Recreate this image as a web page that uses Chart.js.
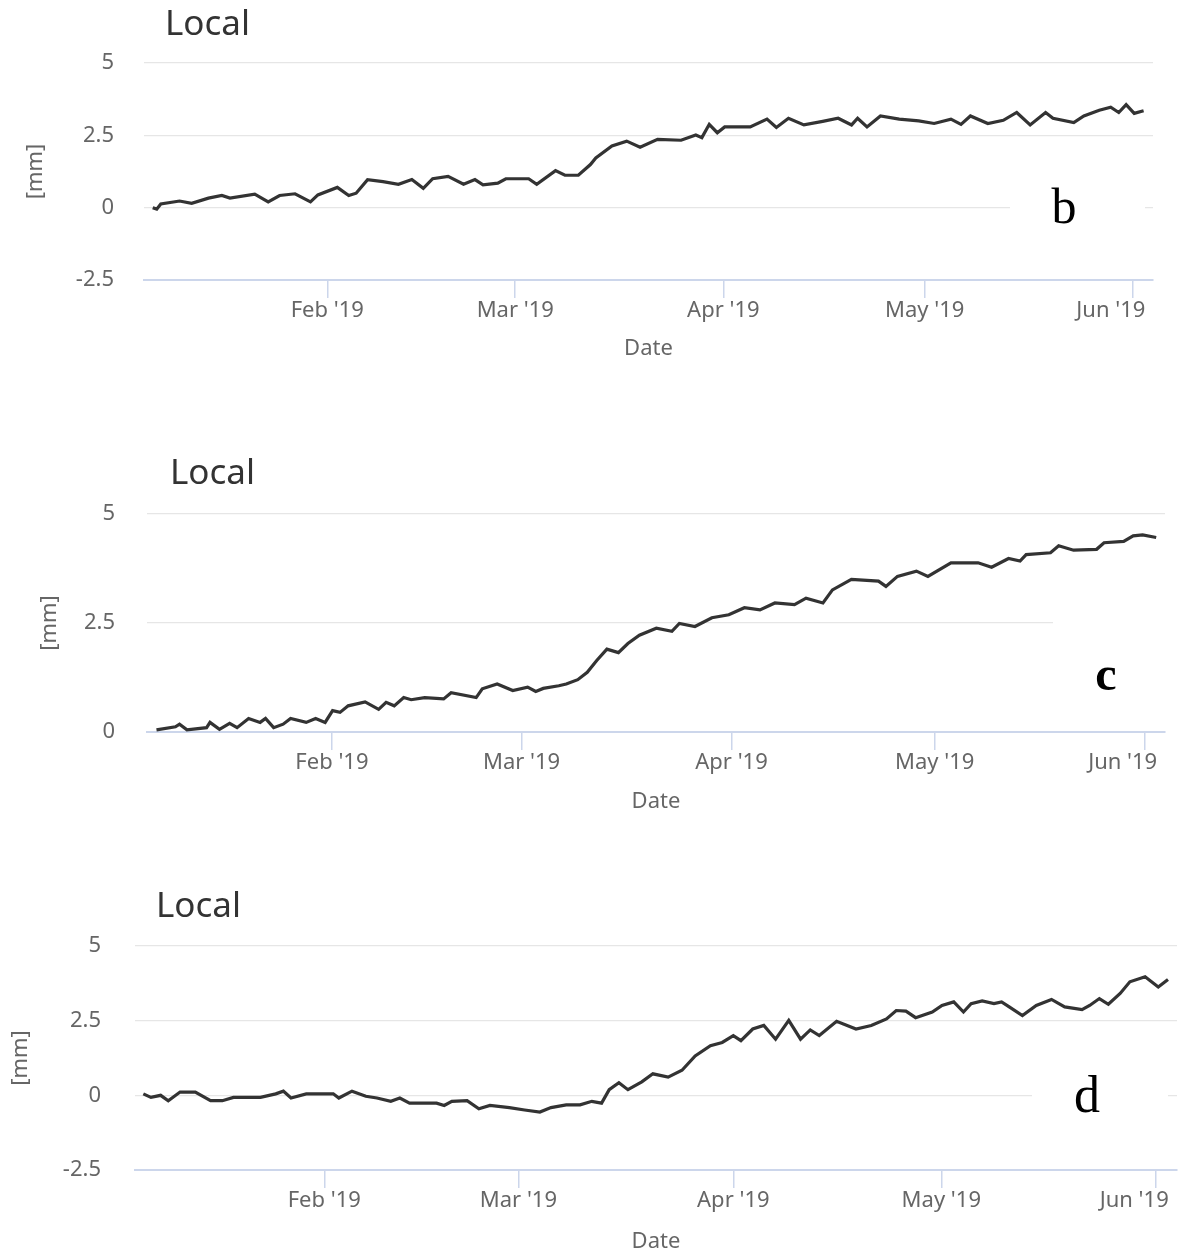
<!DOCTYPE html>
<html lang="en">
<head>
  <meta charset="UTF-8" />
  <title>Local displacement</title>
  <script src="https://cdn.jsdelivr.net/npm/chart.js"></script>
  <style>
    html, body { margin: 0; padding: 0; background: #fff; }
    body { width: 1181px; height: 1249px; overflow: hidden; position: relative; }
    .panel { position: absolute; left: 0; width: 1181px; overflow: hidden; }
    .panel canvas { display: block; }
  </style>
</head>
<body>

  <div class="panel" style="top:0;height:370px"><canvas id="chartB" width="1250" height="370"></canvas></div>
  <div class="panel" style="top:420px;height:402px"><canvas id="chartC" width="1250" height="402"></canvas></div>
  <div class="panel" style="top:850px;height:399px"><canvas id="chartD" width="1250" height="410"></canvas></div>

  <script>
    // x values are day numbers counted from 1 Jan 2019 (= 0)
    const monthDays = [31, 59, 90, 120, 151];
    const monthLabels = ["Feb '19", "Mar '19", "Apr '19", "May '19", "Jun '19"];
    const yTicks = [-2.5, 0, 2.5, 5];

    // panel b
    const bDays = [
      5.0, 5.6, 6.2, 9.0, 10.8, 13.3, 15.3, 16.5, 20.2, 22.2,
      23.9, 26.2, 28.5, 29.6, 32.5, 34.2, 35.3, 37.0, 39.3, 41.6,
      43.6, 45.3, 46.7, 49.0, 51.3, 53.0, 54.2, 56.4, 57.6, 61.0,
      62.2, 65.0, 66.4, 68.4, 70.2, 71.0, 73.4, 75.6, 77.6, 80.2,
      83.7, 85.9, 86.8, 87.9, 89.1, 90.2, 94.0, 96.5, 97.9, 99.7,
      102.0, 104.8, 107.1, 109.1, 110.0, 111.4, 113.4, 116.2, 119.1, 121.4,
      123.9, 125.4, 126.8, 129.4, 131.7, 133.7, 135.7, 138.0, 139.1, 142.2,
      143.7, 146.0, 147.7, 148.9, 150.0, 151.2, 152.6
    ];
    const bValues = [
      0.0, -0.05, 0.13, 0.23, 0.15, 0.33, 0.42, 0.33, 0.47, 0.2,
      0.42, 0.48, 0.2, 0.44, 0.7, 0.42, 0.5, 0.97, 0.9, 0.81,
      0.97, 0.67, 1.0, 1.08, 0.81, 0.97, 0.79, 0.85, 1.0, 1.0,
      0.81, 1.28, 1.12, 1.12, 1.49, 1.72, 2.13, 2.3, 2.09, 2.36,
      2.33, 2.51, 2.42, 2.88, 2.59, 2.79, 2.79, 3.06, 2.77, 3.09,
      2.86, 2.98, 3.09, 2.86, 3.09, 2.79, 3.17, 3.06, 3.0, 2.91,
      3.06, 2.88, 3.17, 2.91, 3.02, 3.29, 2.86, 3.29, 3.09, 2.94,
      3.17, 3.37, 3.47, 3.29, 3.56, 3.26, 3.35
    ];

    // panel c
    const cDays = [
      5.1, 7.9, 8.5, 9.6, 12.5, 13.0, 14.4, 15.9, 17.0, 18.7,
      20.4, 21.2, 22.4, 23.8, 24.9, 27.2, 28.6, 30.0, 31.1, 32.2,
      33.4, 35.9, 37.9, 39.0, 40.2, 41.6, 42.7, 44.7, 47.5, 48.6,
      52.3, 53.2, 55.4, 57.7, 59.9, 61.1, 62.2, 64.5, 65.6, 67.3,
      68.7, 70.1, 71.6, 73.3, 74.7, 76.4, 78.9, 81.2, 82.3, 84.6,
      87.1, 89.6, 91.9, 94.2, 96.4, 99.3, 101.0, 103.5, 104.9, 107.7,
      111.7, 112.8, 114.5, 117.3, 119.0, 122.4, 126.4, 128.4, 130.9, 132.6,
      133.5, 137.1, 138.3, 140.5, 143.9, 145.0, 147.9, 149.3, 150.7, 152.7
    ];
    const cValues = [
      0.05, 0.12, 0.18, 0.05, 0.1, 0.22, 0.06, 0.2, 0.1, 0.31,
      0.22, 0.31, 0.1, 0.18, 0.31, 0.22, 0.31, 0.22, 0.49, 0.45,
      0.6, 0.69, 0.52, 0.68, 0.6, 0.79, 0.74, 0.79, 0.76, 0.9,
      0.79, 0.99, 1.1, 0.95, 1.03, 0.93, 1.0, 1.06, 1.1, 1.2,
      1.37, 1.64, 1.9, 1.82, 2.03, 2.22, 2.38, 2.31, 2.49, 2.42,
      2.62, 2.69, 2.85, 2.8, 2.96, 2.92, 3.07, 2.96, 3.26, 3.5,
      3.46, 3.34, 3.57, 3.69, 3.57, 3.88, 3.88, 3.78, 3.98, 3.92,
      4.07, 4.11, 4.27, 4.17, 4.19, 4.34, 4.37, 4.5, 4.52, 4.46
    ];

    // panel d
    const dDays = [
      4.9, 6.0, 7.4, 8.5, 10.2, 12.4, 14.6, 16.3, 17.9, 21.8,
      24.0, 25.1, 26.2, 28.4, 32.3, 33.1, 35.0, 37.0, 38.6, 40.6,
      41.9, 43.3, 47.2, 48.3, 49.4, 51.6, 53.3, 54.9, 57.7, 59.9,
      62.1, 63.7, 65.9, 67.9, 69.6, 71.0, 72.1, 73.5, 74.8, 76.8,
      78.4, 80.6, 82.6, 84.5, 86.7, 88.4, 90.0, 91.1, 92.8, 94.4,
      96.1, 98.0, 99.7, 101.1, 102.4, 104.9, 107.7, 109.9, 112.1, 113.5,
      114.9, 116.3, 118.7, 120.1, 121.8, 123.2, 124.3, 125.9, 127.6, 128.7,
      129.8, 131.7, 133.7, 135.9, 137.8, 140.3, 141.4, 142.8, 144.1, 145.8,
      147.2, 149.4, 151.3, 152.7
    ];
    const dValues = [
      0.05, -0.07, 0.0, -0.18, 0.11, 0.11, -0.18, -0.18, -0.07, -0.07,
      0.05, 0.14, -0.09, 0.05, 0.05, -0.09, 0.14, -0.03, -0.09, -0.2,
      -0.09, -0.26, -0.26, -0.34, -0.2, -0.18, -0.45, -0.34, -0.41, -0.49,
      -0.56, -0.41, -0.32, -0.32, -0.2, -0.26, 0.19, 0.42, 0.19, 0.45,
      0.72, 0.61, 0.84, 1.32, 1.66, 1.77, 2.0, 1.83, 2.22, 2.34,
      1.88, 2.51, 1.88, 2.19, 2.0, 2.48, 2.22, 2.34, 2.56, 2.84,
      2.82, 2.6, 2.79, 3.01, 3.13, 2.79, 3.07, 3.16, 3.07, 3.13,
      2.96, 2.67, 3.01, 3.21, 2.96, 2.87, 3.01, 3.24, 3.05, 3.41,
      3.8, 3.97, 3.63, 3.88
    ];

    const FONT = "'Noto Sans', 'DejaVu Sans', sans-serif";

    // draws the "Local" heading and the panel letter on a white patch
    const panelText = {
      id: 'panelText',
      afterDraw(chart, args, opts) {
        const ctx = chart.ctx;
        ctx.save();
        ctx.fillStyle = '#333';
        ctx.font = '35px ' + FONT;
        ctx.textAlign = 'left';
        ctx.textBaseline = 'middle';
        ctx.fillText(opts.title, opts.titleX, opts.titleY);

        const r = opts.patch;
        ctx.fillStyle = '#fff';
        ctx.fillRect(r[0], r[1], r[2], r[3]);
        ctx.fillStyle = '#000';
        ctx.font = opts.letterFont + " 'Liberation Serif', 'DejaVu Serif', serif";
        ctx.textAlign = 'center';
        ctx.textBaseline = 'alphabetic';
        ctx.fillText(opts.letter, opts.letterX, opts.letterY);
        ctx.restore();
      }
    };

    function makeChart(id, days, values, p) {
      const points = days.map((d, i) => ({ x: d, y: values[i] }));
      return new Chart(document.getElementById(id), {
        type: 'line',
        data: {
          datasets: [{
            data: points,
            borderColor: '#333',
            borderWidth: 3.2,
            pointRadius: 0,
            tension: 0,
            fill: false
          }]
        },
        plugins: [panelText],
        options: {
          responsive: false,
          animation: false,
          devicePixelRatio: 1,
          layout: { padding: { top: p.padTop, right: p.padRight, left: 0, bottom: 0 } },
          plugins: {
            legend: { display: false },
            tooltip: { enabled: false },
            panelText: p.text
          },
          scales: {
            x: {
              type: 'linear',
              min: 3.7,
              max: 154,
              afterBuildTicks: s => { s.ticks = monthDays.map(v => ({ value: v })); },
              afterFit: s => { s.height = 90; },
              ticks: {
                autoSkip: false,
                maxRotation: 0,
                padding: 0,
                color: '#666',
                font: { family: FONT, size: 22 },
                // last label is pulled left inside the plot edge
                callback: (v, i) => i === monthDays.length - 1 ? monthLabels[i] + '\u2003\u2003' : monthLabels[i]
              },
              grid: { drawOnChartArea: false, drawTicks: true, tickLength: 18, color: '#ccd6eb', lineWidth: 1.5 },
              border: { display: true, color: '#ccd6eb', width: 2 },
              title: {
                display: true,
                text: 'Date',
                color: '#666',
                font: { family: FONT, size: 22, lineHeight: 1.2 },
                padding: { top: 0, bottom: p.xTitlePad }
              }
            },
            y: {
              min: p.yMin,
              max: 5,
              afterBuildTicks: s => { s.ticks = yTicks.filter(v => v >= p.yMin).map(v => ({ value: v })); },
              afterFit: s => { s.width = p.yWidth; },
              ticks: {
                padding: p.yTickPad,
                color: '#666',
                font: { family: FONT, size: 22 },
                callback: v => String(v)
              },
              grid: { color: '#e6e6e6', lineWidth: 1.3, drawTicks: false },
              border: { display: false },
              title: {
                display: true,
                text: '[mm]',
                color: '#666',
                font: { family: FONT, size: 22, lineHeight: 1.2 },
                padding: { top: p.yTitlePad, bottom: 0 }
              }
            }
          }
        }
      });
    }

    makeChart('chartB', bDays, bValues, {
      padTop: 63, padRight: 97, yWidth: 144, yTickPad: 30, yTitlePad: 23, yMin: -2.5, xTitlePad: 8,
      text: { title: 'Local', titleX: 165, titleY: 25, letter: 'b', letterFont: '50px',
              letterX: 1064, letterY: 223, patch: [1010, 190, 135, 40] }
    });

    makeChart('chartC', cDays, cValues, {
      padTop: 94, padRight: 85, yWidth: 147, yTickPad: 32, yTitlePad: 37, yMin: 0, xTitlePad: 7,
      text: { title: 'Local', titleX: 170, titleY: 54, letter: 'c', letterFont: 'bold 48px',
              letterX: 1106, letterY: 270, patch: [1053, 190, 130, 95] }
    });

    makeChart('chartD', dDays, dValues, {
      padTop: 96, padRight: 73, yWidth: 135, yTickPad: 34, yTitlePad: 8, yMin: -2.5, xTitlePad: 5,
      text: { title: 'Local', titleX: 156, titleY: 57, letter: 'd', letterFont: '52px',
              letterX: 1087, letterY: 262, patch: [1032, 222, 136, 48] }
    });
  </script>
</body>
</html>
